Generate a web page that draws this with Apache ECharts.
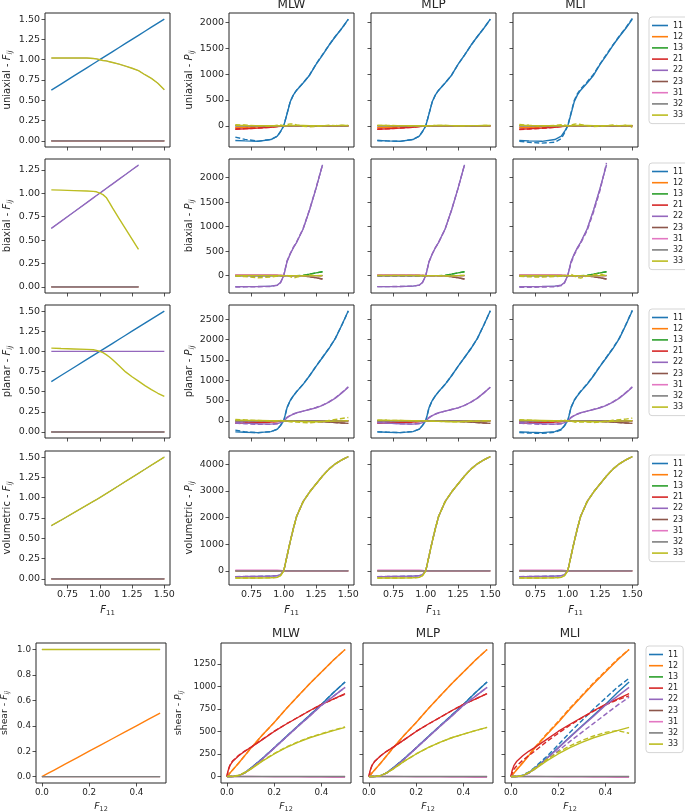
<!DOCTYPE html>
<html><head><meta charset="utf-8">
<script src="https://cdn.jsdelivr.net/npm/echarts@6/dist/echarts.min.js"></script>
<style>html,body{margin:0;padding:0;background:#fff}#c{width:685px;height:811px}</style>
</head><body><div id="c"></div>
<script>
// ---------------- categories ----------------
const COMPS = ['11','12','13','21','22','23','31','32','33'];
const COLORS = ['#1f77b4','#ff7f0e','#2ca02c','#d62728','#9467bd','#8c564b','#e377c2','#7f7f7f','#bcbd22'];
const MODELS = ['MLW','MLP','MLI'];
const LOADS = ['uniaxial','biaxial','planar','volumetric','shear'];

// ---------------- tick labels ----------------
const X_TICKS_F11 = [0.75,1.00,1.25,1.50];
const X_TICKS_F12 = [0.0,0.2,0.4];
const Y_TICKS_F_UNI = [0,0.25,0.5,0.75,1.0,1.25,1.5];
const Y_TICKS_F_BI = [0,0.25,0.5,0.75,1.0,1.25];
const Y_TICKS_F_PL = [0,0.25,0.5,0.75,1.0,1.25,1.5];
const Y_TICKS_F_VOL = [0,0.25,0.5,0.75,1.0,1.25,1.5];
const Y_TICKS_F_SH = [0,0.2,0.4,0.6,0.8,1.0];
const Y_TICKS_P_UNI = [0,500,1000,1500,2000];
const Y_TICKS_P_BI = [0,500,1000,1500,2000];
const Y_TICKS_P_PL = [0,500,1000,1500,2000,2500];
const Y_TICKS_P_VOL = [0,1000,2000,3000,4000];
const Y_TICKS_P_SH = [0,250,500,750,1000,1250];

// ---------------- x grids ----------------
const X_F11 = [0.625,0.7,0.8,0.9,0.95,0.975,1.0,1.025,1.05,1.075,1.1,1.15,1.2,1.25,1.3,1.35,1.4,1.45,1.5];
const X_F11_ENDS = [0.625,1.5];
const X_BI = [0.625,0.7,0.8,0.9,0.95,0.975,1.0,1.025,1.05,1.075,1.1,1.15,1.2,1.25,1.3];
const X_BI_ENDS = [0.625,1.3];
const X_SH = [0,0.025,0.05,0.075,0.1,0.15,0.2,0.25,0.3,0.35,0.4,0.45,0.5];
const X_SH_FINE = [0,0.005,0.0125,0.025,0.05,0.075,0.1,0.15,0.2,0.25,0.3,0.35,0.4,0.45,0.5];
const X_SH_ENDS = [0,0.5];
const ZERO2 = [0,0];
const ONE2 = [1,1];

// ---------------- uniaxial ----------------
const UNI_F11 = [0.625,0.7,0.8,0.9,0.95,0.975,1.0,1.025,1.05,1.075,1.1,1.15,1.2,1.25,1.3,1.35,1.4,1.45,1.5];
const UNI_F22 = [1.02,1.02,1.02,1.02,1.015,1.01,1.0,0.99,0.985,0.975,0.965,0.945,0.92,0.895,0.865,0.815,0.77,0.71,0.63];
const UNI_F33 = [1.02,1.02,1.02,1.02,1.015,1.01,1.0,0.99,0.985,0.975,0.965,0.945,0.92,0.895,0.865,0.815,0.77,0.71,0.63];
const UNI_P11 = [-285,-292,-300,-265,-200,-110,0,230,465,600,690,830,980,1190,1370,1560,1730,1890,2065];
const UNI_P11_MLW = [-220,-262,-296,-266,-202,-112,0,232,467,602,692,832,985,1195,1378,1562,1735,1885,2062];
const UNI_P11_MLI = [-300,-318,-335,-318,-245,-135,0,245,490,625,715,850,1000,1200,1385,1565,1740,1900,2080];
const UNI_P12 = [-35,-30,-22,-12,-6,-3,0,0,0,0,0,0,0,0,0,0,0,0,0];
const UNI_P21 = [-65,-58,-45,-28,-15,-8,0,0,0,0,0,0,0,0,0,0,0,0,0];
const UNI_P21_MLW = [-60,-55,-44,-28,-16,-8,0,0,0,0,0,0,0,0,0,0,0,0,0];
const UNI_P21_MLI = [-72,-62,-48,-30,-16,-8,0,0,0,0,0,0,0,0,0,0,0,0,0];
const UNI_P33 = [8,6,4,2,1,1,0,2,4,6,8,6,4,2,2,3,4,5,6];
const UNI_P33_MLW = [22,15,2,-6,10,16,5,22,38,34,18,-8,-20,-14,0,10,4,10,4];
const UNI_P33_MLI = [25,10,-5,8,20,18,5,15,30,40,25,0,-15,-10,5,15,0,10,-30];

// ---------------- biaxial ----------------
const BI_F11 = [0.625,0.7,0.8,0.9,0.95,0.975,1.0,1.025,1.05,1.075,1.1,1.15,1.2,1.25,1.3];
const BI_F22 = [0.625,0.7,0.8,0.9,0.95,0.975,1.0,1.025,1.05,1.075,1.1,1.15,1.2,1.25,1.3];
const BI_F33 = [1.035,1.033,1.028,1.023,1.02,1.015,1.0,0.985,0.955,0.9,0.84,0.73,0.62,0.51,0.40];
const BI_P11 = [-225,-225,-222,-215,-195,-140,0,280,440,570,680,950,1340,1780,2260];
const BI_P22 = [-225,-225,-222,-215,-195,-140,0,280,440,570,680,950,1340,1780,2260];
const BI_P22_MLW = [-235,-230,-228,-222,-200,-145,0,300,450,580,690,960,1350,1790,2260];
const BI_P22_MLI = [-240,-238,-235,-228,-205,-150,0,250,420,550,660,920,1300,1740,2300];
const BI_P13 = [0,0,0,0,0,0,0,0,0,0,0,5,30,55,80];
const BI_P23 = [0,0,0,0,0,0,0,0,0,0,0,-5,-25,-45,-70];
const BI_P31 = [18,18,18,17,15,10,0,0,0,0,0,0,0,0,0];
const BI_P33 = [5,5,5,5,3,2,0,0,0,0,0,-5,-5,0,5];
const BI_P33_MLW = [-10,-20,-45,-30,-10,0,0,10,-20,-50,-30,0,10,0,-10];
const BI_P33_MLI = [-15,-25,-30,-20,-10,0,0,30,-10,-40,-50,-10,20,35,-5];

// ---------------- planar ----------------
const PL_F11 = [0.625,0.7,0.8,0.9,0.95,0.975,1.0,1.025,1.05,1.075,1.1,1.15,1.2,1.25,1.3,1.35,1.4,1.45,1.5];
const PL_F33 = [1.04,1.035,1.03,1.025,1.02,1.012,1.0,0.985,0.96,0.93,0.895,0.82,0.745,0.685,0.63,0.575,0.525,0.48,0.44];
const PL_P11 = [-270,-278,-288,-262,-204,-110,0,320,500,620,720,900,1110,1340,1560,1780,2030,2360,2710];
const PL_P11_MLW = [-225,-270,-290,-264,-206,-112,0,322,502,622,722,902,1112,1345,1565,1785,2035,2360,2700];
const PL_P11_MLI = [-285,-300,-305,-280,-220,-120,0,330,510,630,730,910,1120,1350,1570,1790,2040,2370,2720];
const PL_P22 = [-40,-55,-70,-80,-65,-40,0,80,130,170,200,240,280,320,380,460,560,690,830];
const PL_P22_MLW = [-55,-70,-85,-85,-70,-42,0,85,135,170,200,240,285,330,390,470,570,700,840];
const PL_P21 = [-55,-50,-40,-25,-15,-8,0,0,0,0,0,0,0,0,0,0,0,0,0];
const PL_P23 = [0,0,0,0,0,0,0,0,0,0,0,0,0,-10,-20,-30,-40,-50,-60];
const PL_P33 = [20,15,10,5,3,2,0,-5,-8,-10,-12,-15,-20,-20,-15,-10,-5,0,5];
const PL_P33_MLW = [35,25,10,-5,5,10,0,-10,-20,-30,-30,-40,-45,-35,-15,10,35,60,85];
const PL_P33_MLI = [30,20,0,-10,10,15,0,-5,-25,-35,-20,-30,-40,-25,-5,15,30,45,70];

// ---------------- volumetric ----------------
const VOL_F11 = [0.655,0.7225,0.815,0.9075,0.954,0.977,1.0,1.025,1.05,1.075,1.1,1.15,1.2,1.25,1.3,1.35,1.4,1.45,1.5];
const VOL_P11 = [-215,-212,-205,-195,-180,-140,0,550,1100,1600,2050,2600,2960,3260,3560,3820,4020,4170,4290];
const VOL_P33 = [-270,-268,-265,-260,-245,-180,0,550,1100,1600,2050,2600,2960,3260,3560,3820,4020,4170,4290];
const VOL_P31 = [30,30,30,30,28,20,0,0,0,0,0,0,0,0,0,0,0,0,0];

// ---------------- shear ----------------
const SH_F12 = [0,0.025,0.05,0.075,0.1,0.15,0.2,0.25,0.3,0.35,0.4,0.45,0.5];
const SH_P11 = [0,0,10,40,90,200,320,440,560,680,800,930,1050];
const SH_P11_MLI = [0,0,15,50,100,220,350,490,620,750,870,990,1090];
const SH_P12 = [0,75,150,230,310,460,600,750,890,1030,1160,1290,1410];
const SH_P12_MLI = [0,80,155,235,320,470,610,760,900,1040,1170,1300,1410];
const SH_P21 = [0,65,120,170,230,280,320,410,500,580,655,730,800,860,920];
const SH_P21_MLW = [0,70,125,175,235,282,322,412,502,582,657,730,800,858,915];
const SH_P21_MLI = [0,40,80,120,180,230,280,385,480,570,650,725,795,850,895];
const SH_P22 = [0,0,10,40,85,195,315,435,555,670,790,890,990];
const SH_P22_MLI = [0,0,10,35,80,180,285,390,490,590,690,790,880];
const SH_P31 = [0,0,0,0,0,-1,-2,-3,-4,-5,-6,-8,-10];
const SH_P33 = [0,0,10,40,80,170,250,320,380,430,470,510,545];
const SH_P33_MLW = [0,5,15,45,85,175,255,325,385,435,475,515,550];
const SH_P33_MLI = [0,0,10,45,90,185,270,340,400,450,490,510,480];

// ================= build =================
const FONT = 'DejaVu Sans';
const AX = '#262626';
const LW = 1.4;
function zip(xs, ys){ return xs.map((x,i)=>[x, ys[i]]); }

// F-panel curves: [comp, xs, ys]
const F_CURVES = [
  [[0,X_F11,UNI_F11],[1,X_F11_ENDS,ZERO2],[2,X_F11_ENDS,ZERO2],[3,X_F11_ENDS,ZERO2],[4,X_F11,UNI_F22],[5,X_F11_ENDS,ZERO2],[6,X_F11_ENDS,ZERO2],[7,X_F11_ENDS,ZERO2],[8,X_F11,UNI_F33]],
  [[0,X_BI,BI_F11],[1,X_BI_ENDS,ZERO2],[2,X_BI_ENDS,ZERO2],[3,X_BI_ENDS,ZERO2],[4,X_BI,BI_F22],[5,X_BI_ENDS,ZERO2],[6,X_BI_ENDS,ZERO2],[7,X_BI_ENDS,ZERO2],[8,X_BI,BI_F33]],
  [[0,X_F11,PL_F11],[1,X_F11_ENDS,ZERO2],[2,X_F11_ENDS,ZERO2],[3,X_F11_ENDS,ZERO2],[4,X_F11_ENDS,ONE2],[5,X_F11_ENDS,ZERO2],[6,X_F11_ENDS,ZERO2],[7,X_F11_ENDS,ZERO2],[8,X_F11,PL_F33]],
  [[0,X_F11,VOL_F11],[1,X_F11_ENDS,ZERO2],[2,X_F11_ENDS,ZERO2],[3,X_F11_ENDS,ZERO2],[4,X_F11,VOL_F11],[5,X_F11_ENDS,ZERO2],[6,X_F11_ENDS,ZERO2],[7,X_F11_ENDS,ZERO2],[8,X_F11,VOL_F11]],
  [[0,X_SH_ENDS,ONE2],[1,X_SH,SH_F12],[2,X_SH_ENDS,ZERO2],[3,X_SH_ENDS,ZERO2],[4,X_SH_ENDS,ONE2],[5,X_SH_ENDS,ZERO2],[6,X_SH_ENDS,ZERO2],[7,X_SH_ENDS,ZERO2],[8,X_SH_ENDS,ONE2]]
];
// P-panel curves: [comp, xs, solid, MLW dashed, MLP dashed, MLI dashed]
const P_CURVES = [
  [[0,X_F11,UNI_P11,UNI_P11_MLW,UNI_P11,UNI_P11_MLI],[1,X_F11,UNI_P12,UNI_P12,UNI_P12,UNI_P12],[2,X_F11_ENDS,ZERO2],
   [3,X_F11,UNI_P21,UNI_P21_MLW,UNI_P21,UNI_P21_MLI],[4,X_F11_ENDS,ZERO2],[5,X_F11_ENDS,ZERO2],[6,X_F11_ENDS,ZERO2],[7,X_F11_ENDS,ZERO2],
   [8,X_F11,UNI_P33,UNI_P33_MLW,UNI_P33,UNI_P33_MLI]],
  [[0,X_BI,BI_P11],[1,X_BI_ENDS,ZERO2],[2,X_BI,BI_P13,BI_P13,BI_P13,BI_P13],[3,X_BI_ENDS,ZERO2],
   [4,X_BI,BI_P22,BI_P22_MLW,BI_P22,BI_P22_MLI],[5,X_BI,BI_P23,BI_P23,BI_P23,BI_P23],[6,X_BI,BI_P31,BI_P31,BI_P31,BI_P31],[7,X_BI_ENDS,ZERO2],
   [8,X_BI,BI_P33,BI_P33_MLW,BI_P33,BI_P33_MLI]],
  [[0,X_F11,PL_P11,PL_P11_MLW,PL_P11,PL_P11_MLI],[1,X_F11_ENDS,ZERO2],[2,X_F11_ENDS,ZERO2],[3,X_F11,PL_P21,PL_P21,PL_P21,PL_P21],
   [4,X_F11,PL_P22,PL_P22_MLW,PL_P22,PL_P22_MLW],[5,X_F11,PL_P23,PL_P23,PL_P23,PL_P23],[6,X_F11_ENDS,ZERO2],[7,X_F11_ENDS,ZERO2],
   [8,X_F11,PL_P33,PL_P33_MLW,PL_P33,PL_P33_MLI]],
  [[0,X_F11,VOL_P11,VOL_P11,VOL_P11,VOL_P11],[1,X_F11_ENDS,ZERO2],[2,X_F11_ENDS,ZERO2],[3,X_F11_ENDS,ZERO2],
   [4,X_F11,VOL_P11,VOL_P11,VOL_P11,VOL_P11],[5,X_F11_ENDS,ZERO2],[6,X_F11,VOL_P31],[7,X_F11_ENDS,ZERO2],
   [8,X_F11,VOL_P33,VOL_P33,VOL_P33,VOL_P33]],
  [[0,X_SH,SH_P11,SH_P11,SH_P11,SH_P11_MLI],[1,X_SH,SH_P12,SH_P12,SH_P12,SH_P12_MLI],[2,X_SH_ENDS,ZERO2],
   [3,X_SH_FINE,SH_P21,SH_P21_MLW,SH_P21,SH_P21_MLI],[4,X_SH,SH_P22,SH_P22,SH_P22,SH_P22_MLI],[5,X_SH_ENDS,ZERO2],[6,X_SH,SH_P31],[7,X_SH_ENDS,ZERO2],
   [8,X_SH,SH_P33,SH_P33_MLW,SH_P33,SH_P33_MLI]]
];

const ROW_TOP = [13,159,305,451,643];
const ROW_H = [134,134,133,134,140];
const COL_LEFT = [[45,229,371,513],[45,229,371,513],[45,229,371,513],[45,229,371,513],[36,221,363,505]];
const COL_W = [125,125,125,125,130];
const XR = [[0.576,1.544],[0.576,1.544],[0.576,1.544],[0.576,1.544],[-0.025,0.525]];
const YR_F = [[-0.075,1.575],[-0.065,1.365],[-0.075,1.575],[-0.075,1.575],[-0.05,1.0511]];
const YR_P = [[-410,2185],[-355,2380],[-420,2850],[-530,4500],[-72,1482]];
const YT_F = [Y_TICKS_F_UNI,Y_TICKS_F_BI,Y_TICKS_F_PL,Y_TICKS_F_VOL,Y_TICKS_F_SH];
const YT_P = [Y_TICKS_P_UNI,Y_TICKS_P_BI,Y_TICKS_P_PL,Y_TICKS_P_VOL,Y_TICKS_P_SH];
const FS = [9.5,9.5,9.5,9.5,8.8];

const opt = {animation:false, backgroundColor:'#fff', grid:[], xAxis:[], yAxis:[], series:[], legend:[], graphic:[]};

function richName(fs){
  return {
    n:{fontFamily:FONT,fontSize:fs,color:AX,lineHeight:fs+4,verticalAlign:'middle'},
    i:{fontFamily:FONT,fontSize:fs,color:AX,fontStyle:'italic',lineHeight:fs+4,verticalAlign:'middle'},
    s:{fontFamily:FONT,fontSize:fs*0.7,color:AX,lineHeight:fs*0.7,verticalAlign:'bottom'},
    si:{fontFamily:FONT,fontSize:fs*0.7,color:AX,fontStyle:'italic',lineHeight:fs*0.7,verticalAlign:'bottom'}
  };
}
function axisCommon(ticks, showLab, fmt, fs){
  return {
    axisLine:{show:false,onZero:false},
    axisTick:{show:true,inside:false,length:3.5,lineStyle:{color:AX,width:0.8},customValues:ticks},
    axisLabel:{show:showLab,customValues:ticks,formatter:fmt,fontFamily:FONT,fontSize:fs,color:AX,margin:5},
    splitLine:{show:false}
  };
}
function addPanel(r, c){
  const gi = opt.grid.length;
  const fs = FS[r];
  opt.grid.push({left:COL_LEFT[r][c],top:ROW_TOP[r],width:COL_W[r],height:ROW_H[r],show:true,borderColor:AX,borderWidth:1,backgroundColor:'#fff',containLabel:false,outerBoundsMode:'none'});
  const isF = c===0;
  const showX = (r===3) || (r===4);
  const xfmt = r===4 ? (v=>v.toFixed(1)) : (v=>v.toFixed(2));
  const xname = showX ? (r===4 ? '{i|F}{s|12}' : '{i|F}{s|11}') : '';
  opt.xAxis.push(Object.assign({type:'value',gridIndex:gi,min:XR[r][0],max:XR[r][1],
    name:xname,nameLocation:'middle',nameGap:r===4?17:18,nameTextStyle:{rich:richName(fs+0.5)}},
    axisCommon(r===4?X_TICKS_F12:X_TICKS_F11, showX, xfmt, fs)));
  const yr = isF ? YR_F[r] : YR_P[r];
  const yt = isF ? YT_F[r] : YT_P[r];
  const yfmt = isF ? (r===4 ? (v=>v.toFixed(1)) : (v=>v.toFixed(2))) : (v=>String(v));
  const showY = c<=1;
  const yname = showY ? ('{n|'+LOADS[r]+' - }{i|'+(isF?'F':'P')+'}{si|ij}') : '';
  let ygap;
  if (r===4) ygap = isF ? 25 : 36; else ygap = isF ? 31 : 33;
  opt.yAxis.push(Object.assign({type:'value',gridIndex:gi,min:yr[0],max:yr[1],
    name:yname,nameLocation:'middle',nameGap:ygap,nameTextStyle:{rich:richName(fs+0.5)}},
    axisCommon(yt, showY, yfmt, fs)));
  return gi;
}
function sameArr(a,b){ return a.length===b.length && a.every((v,i)=>v===b[i]); }
// lines: [comp, xs, ys, dashed]; a line exactly covered by a later solid line is drawn thinner
function drawPanel(gi, lines){
  lines.forEach((l,k)=>{
    const covered = lines.slice(k+1).some(o=>!o[3] && o[0]!==l[0] && sameArr(o[1],l[1]) && sameArr(o[2],l[2]));
    opt.series.push({type:'line',name:COMPS[l[0]],xAxisIndex:gi,yAxisIndex:gi,data:zip(l[1],l[2]),
      symbol:'none',showSymbol:false,silent:true,clip:true,
      lineStyle:{color:COLORS[l[0]],width:covered?0.7:LW,type:l[3]?[5,2.5]:'solid'},
      itemStyle:{color:COLORS[l[0]]},emphasis:{disabled:true}});
  });
}
for (let r=0;r<5;r++){
  const gF = addPanel(r,0);
  drawPanel(gF, F_CURVES[r].map(([c,xs,ys])=>[c,xs,ys,false]));
  for (let m=0;m<3;m++){
    const g = addPanel(r,m+1);
    const lines = [];
    P_CURVES[r].forEach(e=>{
      lines.push([e[0],e[1],e[2],false]);
      if (e.length>3) lines.push([e[0],e[1],e[3+m],true]);
    });
    drawPanel(g, lines);
  }
}
// legends
const LEG_POS = [[649,17],[649,163],[649,309],[649,455],[646,646]];
LEG_POS.forEach(([x,y],k)=>{
  opt.legend.push({data:COMPS,orient:'vertical',left:x,top:y,icon:'rect',
    itemWidth:k===4?14:16,itemHeight:1.6,itemGap:2.2,itemTextGap:6,padding:[4,5,4,3],
    borderColor:'#d5d5d5',borderWidth:1,borderRadius:3,backgroundColor:'rgba(255,255,255,0.8)',
    selectedMode:false,textStyle:{fontFamily:FONT,fontSize:8,color:AX,lineHeight:9}});
});
// titles
[[0,11],[4,639.5]].forEach(([r,y])=>{
  MODELS.forEach((t,m)=>{
    opt.graphic.push({type:'text',x:COL_LEFT[r][m+1]+COL_W[r]/2,y:y,silent:true,
      style:{text:t,fill:AX,font:'12px "DejaVu Sans"',align:'center',verticalAlign:'bottom',textAlign:'center',textVerticalAlign:'bottom'}});
  });
});

const chart = echarts.init(document.getElementById('c'), null, {renderer:'canvas'});
chart.setOption(opt);
</script></body></html>
